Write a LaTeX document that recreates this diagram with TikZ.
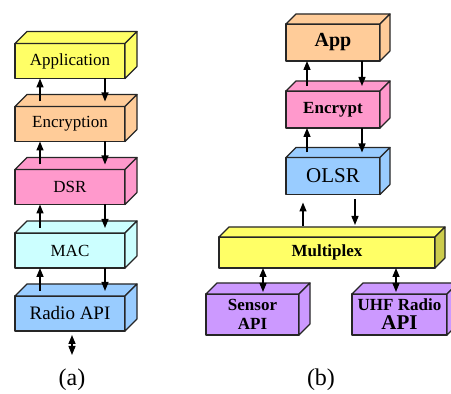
\documentclass[tikz,border=0pt]{standalone}
\usepackage{fontspec}
\setmainfont{Liberation Serif}
\usetikzlibrary{calc,arrows.meta}

\definecolor{layeryellow}{HTML}{FFFF66}
\definecolor{layerpeach}{HTML}{FFCC99}
\definecolor{layerpink}{HTML}{FF99CC}
\definecolor{layercyan}{HTML}{CCFFFF}
\definecolor{layerblue}{HTML}{99CCFF}
\definecolor{layerviolet}{HTML}{CC99FF}
\definecolor{muxside}{HTML}{CCCC4C}

% top and right faces of a slab: node, depth, top colour, side colour
\newcommand{\slab}[4]{%
    \draw[face, fill=#3] (#1.north west) -- ($(#1.north west)+(#2,-#2)$)
        -- ($(#1.north east)+(#2,-#2)$) -- (#1.north east) -- cycle;
    \draw[face, fill=#4] (#1.north east) -- ($(#1.north east)+(#2,-#2)$)
        -- ($(#1.south east)+(#2,-#2)$) -- (#1.south east) -- cycle;
}

\begin{document}
\begin{tikzpicture}[
            x=0.5pt, y=-0.5pt,
            >={Triangle[length=4.5pt,width=3.5pt]},
            face/.style={
                draw=black!85,
                line width=0.6pt,
                line join=round
            },
            layer/.style={
                rectangle,
                face,
                inner sep=0pt,
                outer sep=0pt,
                align=center,
                font=\fontsize{8.5}{10}\selectfont
            },
            stackA/.style={
                layer,
                minimum width=55pt,
                minimum height=17.5pt
            },
            stackB/.style={
                layer,
                minimum width=47pt,
                minimum height=18.5pt,
                font=\fontsize{8.5}{10}\selectfont\bfseries
            },
            device/.style={
                layer,
                minimum height=20.5pt,
                font=\fontsize{8.5}{9.5}\selectfont\bfseries
            },
            link/.style={line width=0.7pt},
            caption/.style={font=\fontsize{12}{14}\selectfont},
        ]

            \useasboundingbox (0,0) rectangle (451,394);
            \clip (0,0) rectangle (451,394);

            % (a) protocol stack
            \node[stackA, fill=layeryellow] (APP) at (70,61) {Application};
            \slab{APP}{12}{layeryellow}{layeryellow}

            \node[stackA, fill=layerpeach] (ENC) at (70,124) {Encryption};
            \slab{ENC}{12}{layerpeach}{layerpeach}

            \node[stackA, fill=layerpink] (DSR) at (70,187) {DSR};
            \slab{DSR}{12}{layerpink}{layerpink}

            \node[stackA, fill=layercyan] (MAC) at (70,250.5) {MAC};
            \slab{MAC}{12}{layercyan}{layercyan}

            \node[stackA, fill=layerblue, font=\fontsize{9.5}{11}\selectfont] (RAD) at (70,313.5) {Radio API};
            \slab{RAD}{12}{layerblue}{layerblue}

            \draw[link,->] ($(ENC.north west)+(25,-5)$) -- ($(APP.south west)+(25,0)$);
            \draw[link,->] ($(APP.south west)+(90,0)$) -- ($(ENC.north west)+(90,-5)$);
            \draw[link,->] ($(DSR.north west)+(25,-5)$) -- ($(ENC.south west)+(25,0)$);
            \draw[link,->] ($(ENC.south west)+(90,0)$) -- ($(DSR.north west)+(90,-5)$);
            \draw[link,->] ($(MAC.north west)+(25,-5)$) -- ($(DSR.south west)+(25,0)$);
            \draw[link,->] ($(DSR.south west)+(90,0)$) -- ($(MAC.north west)+(90,-5)$);
            \draw[link,->] ($(RAD.north west)+(25,-5)$) -- ($(MAC.south west)+(25,0)$);
            \draw[link,->] ($(MAC.south west)+(90,0)$) -- ($(RAD.north west)+(90,-5)$);

            \coordinate (air) at ($(RAD.south)+(2,24)$);
            \draw[link,<->] ($(RAD.south)+(2,4)$) -- (air);

            \node[caption] (capA) at (72,380) {(a)};

            % (b) multiplexed stack
            \node[stackB, fill=layerpeach, font=\fontsize{10}{12}\selectfont\bfseries] (APPB) at (333,42.5) {App};
            \slab{APPB}{10}{layerpeach}{layerpeach}

            \node[stackB, fill=layerpink] (ENCB) at (333,109.5) {Encrypt};
            \slab{ENCB}{10}{layerpink}{layerpink}

            \node[stackB, fill=layerblue, font=\fontsize{10.5}{12}\selectfont] (OLSR) at (333,176) {OLSR};
            \slab{OLSR}{10}{layerblue}{layerblue}

            \node[layer, fill=layeryellow, minimum width=108pt, minimum height=15.5pt, font=\fontsize{8.5}{10}\selectfont\bfseries] (MUX) at (327,252.5) {Multiplex};
            \slab{MUX}{10}{layeryellow}{muxside}

            \node[device, fill=layerviolet, minimum width=46.5pt] (SEN) at (252.5,314.5) {Sensor\\API};
            \slab{SEN}{11}{layerviolet}{layerviolet}

            \node[device, fill=layerviolet, minimum width=47.5pt] (UHF) at (399.5,314.5) {UHF Radio\\{\fontsize{10.5}{11}\selectfont API}};
            \slab{UHF}{11}{layerviolet}{layerviolet}

            \draw[link,->] ($(ENCB.north west)+(21,-5)$) -- ($(APPB.south west)+(21,0)$);
            \draw[link,->] ($(APPB.south west)+(76,0)$) -- ($(ENCB.north west)+(76,-5)$);
            \draw[link,->] ($(OLSR.north west)+(21,-5)$) -- ($(ENCB.south west)+(21,0)$);
            \draw[link,->] ($(ENCB.south west)+(76,0)$) -- ($(OLSR.north west)+(76,-5)$);
            \draw[link,->] ($(MUX.north west)+(84,-11)$) -- ($(OLSR.south west)+(17,8)$);
            \draw[link,->] ($(OLSR.south west)+(69,5)$) -- ($(MUX.north west)+(136,-12)$);

            \draw[link,<->] ($(MUX.south west)+(44,0)$) -- ($(SEN.north west)+(57,-2)$);
            \draw[link,<->] ($(MUX.south west)+(177,0)$) -- ($(UHF.north west)+(44,-2)$);

            \node[caption] (capB) at (321,380) {(b)};
        \end{tikzpicture}
\end{document}
